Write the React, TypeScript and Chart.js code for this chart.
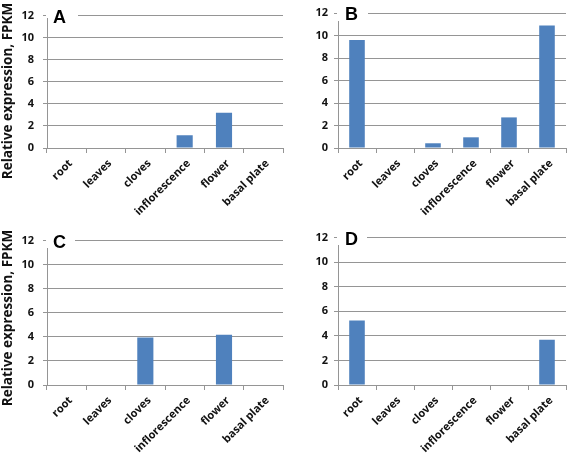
import React, { useEffect, useRef } from "react";
import { Chart, registerables } from "chart.js";

Chart.register(...registerables);

const categories = ["root", "leaves", "cloves", "inflorescence", "flower", "basal plate"];
const valuesA = [0, 0, 0, 1.15, 3.2, 0];
const valuesB = [9.6, 0, 0.42, 0.95, 2.72, 10.9];
const valuesC = [0, 0, 3.95, 0, 4.18, 0];
const valuesD = [5.25, 0, 0, 0, 0, 3.68];
const yTicks = [0, 2, 4, 6, 8, 10, 12];
const yTitle = "Relative expression, FPKM";

const FONT = "'Open Sans', sans-serif";
const BAR = "#4f81bd";
const GRID = "#959595";

type Panel = {
  letter: string;
  data: number[];
  left: number;
  top: number;
  w: number;
  h: number;
  padTop: number;
  padRight: number;
  yWidth: number;
  xHeight: number;
  letterX: number;
  boxRight: number;
  boxBottom: number;
  title: boolean;
  titleY: number;
};

const panels: Panel[] = [
  { letter: "A", data: valuesA, left: 0, top: 0, w: 285, h: 225, padTop: 13, padRight: 2, yWidth: 47, xHeight: 77, letterX: 53, boxRight: 78, boxBottom: 18, title: true, titleY: 91 },
  { letter: "B", data: valuesB, left: 285, top: 0, w: 282, h: 225, padTop: 13, padRight: 1, yWidth: 53, xHeight: 77, letterX: 60, boxRight: 83, boxBottom: 21, title: false, titleY: 0 },
  { letter: "C", data: valuesC, left: 0, top: 225, w: 285, h: 228, padTop: 9, padRight: 2, yWidth: 47, xHeight: 68, letterX: 53, boxRight: 75, boxBottom: 23, title: true, titleY: 93 },
  { letter: "D", data: valuesD, left: 285, top: 225, w: 282, h: 228, padTop: 9, padRight: 1, yWidth: 53, xHeight: 68, letterX: 60, boxRight: 82, boxBottom: 20, title: false, titleY: 0 },
];

function PanelChart({ p }: { p: Panel }) {
  const ref = useRef<HTMLCanvasElement>(null);
  useEffect(() => {
    if (!ref.current) return;
    const deco = {
      id: "deco" + p.letter,
      afterDraw(chart: any) {
        const ctx = chart.ctx;
        const area = chart.chartArea;
        ctx.save();
        ctx.fillStyle = "#ffffff";
        ctx.fillRect(area.left - 1, 0, p.boxRight - area.left + 1, p.boxBottom);
        ctx.fillStyle = "#000000";
        ctx.font = "bold 18px 'Liberation Sans', Arial, sans-serif";
        ctx.textAlign = "left";
        ctx.textBaseline = "alphabetic";
        ctx.fillText(p.letter, p.letterX, area.top + 7);
        if (p.title) {
          ctx.translate(8, p.titleY);
          ctx.rotate(-Math.PI / 2);
          ctx.font = "bold 13.5px " + FONT;
          ctx.textAlign = "center";
          ctx.textBaseline = "middle";
          ctx.fillStyle = "#111";
          ctx.fillText(yTitle, 0, 0);
        }
        ctx.restore();
      },
    };
    const chart = new Chart(ref.current, {
      type: "bar",
      data: {
        labels: categories,
        datasets: [
          {
            data: p.data,
            backgroundColor: BAR,
            borderWidth: 0,
            barPercentage: 0.41,
            categoryPercentage: 1,
          },
        ],
      },
      options: {
        animation: false,
        responsive: false,
        maintainAspectRatio: false,
        layout: { padding: { top: p.padTop, right: p.padRight, left: 0, bottom: 0 } },
        plugins: { legend: { display: false }, tooltip: { enabled: false } },
        scales: {
          x: {
            offset: true,
            grid: { display: true, drawOnChartArea: false, drawTicks: true, tickLength: 5, offset: true, color: GRID },
            border: { display: true, color: GRID },
            ticks: {
              autoSkip: false,
              maxRotation: 45,
              minRotation: 45,
              padding: 4,
              labelOffset: 4,
              color: "#111",
              font: { family: FONT, size: 11, weight: "bold" },
            },
            afterFit: (s: any) => { s.height = p.xHeight; },
          },
          y: {
            min: 0,
            max: 12,
            afterBuildTicks: (s: any) => { s.ticks = yTicks.map((v) => ({ value: v })); },
            grid: { color: GRID, tickLength: 4, drawTicks: true },
            border: { display: true, color: GRID },
            ticks: {
              padding: p.title ? 9 : 6,
              color: "#111",
              font: { family: FONT, size: 11, weight: "bold" },
            },
            afterFit: (s: any) => { s.width = p.yWidth; },
          },
        },
      },
      plugins: [deco],
    } as any);
    return () => chart.destroy();
  }, []);
  return (
    <canvas
      ref={ref}
      width={p.w}
      height={p.h}
      style={{ position: "absolute", left: p.left, top: p.top, width: p.w, height: p.h }}
    />
  );
}

export default function App() {
  return (
    <div style={{ position: "fixed", left: 0, top: 0, width: 567, height: 453, background: "#fff", overflow: "hidden" }}>
      {panels.map((p) => (
        <PanelChart key={p.letter} p={p} />
      ))}
    </div>
  );
}
